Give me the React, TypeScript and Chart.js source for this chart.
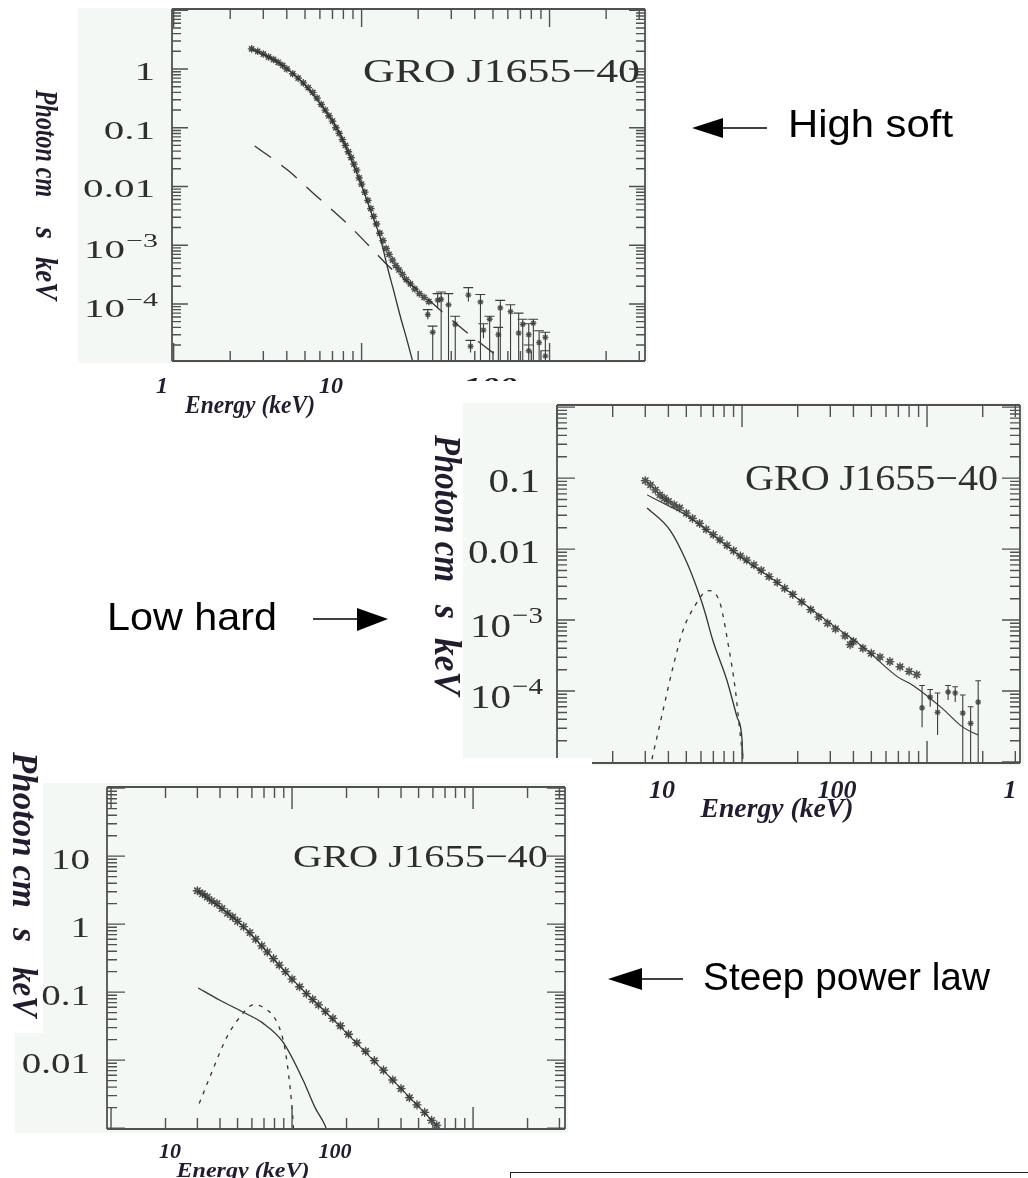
import React, { useEffect, useRef } from 'react';
import { Chart, registerables } from 'chart.js';

Chart.register(...registerables);

// ================= DATA =================
// --- Panel A: "High soft" (energy keV, photon flux) ---
const hsEnergy = [2.6, 2.8, 3.0, 3.2, 3.4, 3.6, 3.8, 4.0, 4.3, 4.6, 4.9, 5.2, 5.5, 5.8, 6.1, 6.4, 6.7, 7.0, 7.3, 7.6, 7.9, 8.2, 8.5, 8.8, 9.1, 9.4, 9.7, 10.0, 10.4, 10.8, 11.2, 11.6, 12.0, 12.5, 13.0, 13.5, 14.0, 14.6, 15.2, 15.8, 16.5, 17.3, 18.2, 19.2, 20.3, 21.5, 22.8];
const hsFlux = [2.2, 2.0, 1.8, 1.6, 1.45, 1.3, 1.15, 1.0, 0.83, 0.70, 0.58, 0.48, 0.40, 0.32, 0.25, 0.20, 0.16, 0.13, 0.10, 0.080, 0.063, 0.050, 0.039, 0.031, 0.024, 0.019, 0.014, 0.011, 0.0080, 0.0058, 0.0042, 0.0031, 0.0023, 0.0016, 0.0012, 0.00088, 0.00070, 0.00056, 0.00045, 0.00038, 0.00032, 0.00026, 0.00022, 0.00018, 0.00015, 0.00013, 0.00011];
const hsHardEnergy = [22.5, 23.9, 25.4, 26.5, 29.0, 31.5, 37.0, 38.0, 42.9, 44.5, 48.0, 53.4, 54.7, 62.0, 68.5, 72.0, 77.5, 77.5, 82.0, 88.0, 95.0, 95.0];
const hsHardFlux = [6.6e-5, 3.3e-5, 1.16e-4, 1.2e-4, 9.7e-5, 4.5e-5, 1.42e-4, 1.9e-5, 1.08e-4, 3.6e-5, 5.5e-5, 3.0e-5, 8.6e-5, 7.4e-5, 3.2e-5, 4.5e-5, 3.0e-5, 1.6e-5, 4.7e-5, 2.2e-5, 2.7e-5, 1.3e-5];
const hsHardUpper = [8e-5, 4.2e-5, 1.5e-4, 1.6e-4, 1.5e-4, 6.2e-5, 1.9e-4, 2.4e-5, 1.45e-4, 4.6e-5, 6.2e-5, 4e-5, 1.15e-4, 9.7e-5, 7e-5, 5.5e-5, 4.6e-5, 2e-5, 5.5e-5, 3.5e-5, 3.3e-5, 1.6e-5];
const hsHardLower = [5.5e-5, 1e-6, 8.5e-5, 1e-6, 1e-6, 1e-6, 1.1e-4, 1.5e-5, 1e-6, 2.6e-5, 1e-6, 1e-6, 1e-6, 1e-6, 1e-6, 1e-6, 1e-6, 1e-6, 1e-6, 1e-6, 1e-6, 1e-6];
const hsDiskEnergy = [2.6, 3.6, 4.7, 6.0, 7.5, 8.7, 9.9, 11.2, 12.6, 13.7, 14.8, 16.1, 17.4, 18.7];
const hsDiskFlux = [2.2, 1.3, 0.65, 0.26, 0.09, 0.032, 0.0115, 0.0038, 0.0013, 4.3e-4, 1.7e-4, 6e-5, 2.5e-5, 1.05e-5];
const hsPowEnergy = [2.7, 4.04, 5.83, 8.42, 12.2, 13.7, 20, 27.3, 49.7, 60];
const hsPowFlux = [0.049, 0.019, 0.0066, 0.0023, 6.8e-4, 4.6e-4, 1.7e-4, 7e-5, 1.5e-5, 1e-5];
const hsYTicks = [1, 0.1, 0.01, 1e-3, 1e-4];

// --- Panel B: "Low hard" ---
const lhEnergy = [3.0, 3.2, 3.4, 3.6, 3.8, 4.0, 4.3, 4.6, 5.0, 5.4, 5.9, 6.4, 7.0, 7.6, 8.3, 9.0, 9.8, 10.6, 11.6, 12.7, 14.0, 15.5, 17.0, 18.8, 21.0, 23.5, 26.0, 29.0, 32.0, 36.0, 38.4, 40.0, 45.0, 50.0, 55.7, 63.0, 71.5, 80.0, 88.0];
const lhFlux = [0.092, 0.080, 0.068, 0.058, 0.052, 0.047, 0.042, 0.038, 0.032, 0.027, 0.023, 0.019, 0.016, 0.0135, 0.0113, 0.0095, 0.0080, 0.0070, 0.0060, 0.0050, 0.0041, 0.0034, 0.0028, 0.0023, 0.0018, 0.0014, 0.0011, 0.00090, 0.00075, 0.00060, 0.00045, 0.00050, 0.00040, 0.00034, 0.00030, 0.00026, 0.00022, 0.00019, 0.00017];
const lhHardEnergy = [94, 104, 114, 130, 142, 156, 172, 189];
const lhHardFlux = [5.8e-5, 8.2e-5, 5.0e-5, 9.7e-5, 9.4e-5, 4.9e-5, 3.5e-5, 7.0e-5];
const lhHardUpper = [1.2e-4, 1.05e-4, 9.4e-5, 1.2e-4, 1.15e-4, 8.8e-5, 6e-5, 1.4e-4];
const lhHardLower = [3.1e-5, 6e-5, 2.4e-5, 7.5e-5, 7e-5, 1e-6, 1e-6, 1e-6];
const lhModelEnergy = [3.07, 3.9, 5, 7, 10, 15, 20, 30, 45, 69, 84, 120, 156, 189];
const lhModelFlux = [0.058, 0.042, 0.030, 0.0155, 0.0075, 0.0036, 0.0020, 0.0009, 0.00042, 0.00016, 0.00012, 5.8e-5, 3.1e-5, 2.4e-5];
const lhDiskEnergy = [3.07, 4.08, 5.04, 5.94, 6.3, 6.95, 8.3, 9.4, 10.0, 10.1];
const lhDiskFlux = [0.038, 0.0185, 0.0064, 0.0021, 0.0013, 5.2e-4, 1.4e-4, 4.3e-5, 2.1e-5, 1.1e-5];
const lhBumpEnergy = [3.26, 3.74, 4.24, 4.8, 5.57, 6.55, 7.6, 8.4, 9.2, 9.8, 10.1];
const lhBumpFlux = [1.1e-5, 5.3e-5, 2.2e-4, 7.2e-4, 1.6e-3, 2.6e-3, 1.75e-3, 4.7e-4, 1.05e-4, 2.3e-5, 1.2e-5];
const lhYTicks = [0.1, 0.01, 1e-3, 1e-4];

// --- Panel C: "Steep power law" ---
const spEnergy = [3.0, 3.2, 3.4, 3.6, 3.85, 4.1, 4.4, 4.7, 5.0, 5.4, 5.85, 6.3, 6.8, 7.3, 7.9, 8.5, 9.2, 10.0, 11.0, 12.0, 13.0, 14.0, 15.3, 16.8, 18.5, 20.5, 22.8, 25.5, 28.5, 32.0, 36.0, 40.0, 44.5, 49.0, 54.0, 59.0, 63.0];
const spFlux = [3.1, 2.8, 2.5, 2.2, 2.0, 1.7, 1.45, 1.27, 1.1, 0.92, 0.75, 0.60, 0.48, 0.39, 0.31, 0.25, 0.20, 0.155, 0.120, 0.095, 0.078, 0.065, 0.052, 0.041, 0.032, 0.024, 0.018, 0.0135, 0.0098, 0.0071, 0.0051, 0.0038, 0.0028, 0.0022, 0.0017, 0.0013, 0.0011];
const spModelEnergy = [3.0, 5.0, 10, 20, 40, 63];
const spModelFlux = [3.1, 1.1, 0.155, 0.025, 0.0038, 0.0011];
const spDiskEnergy = [3.03, 4.0, 5.35, 6.9, 8.9, 11.5, 13.4, 15.2, 15.6];
const spDiskFlux = [0.115, 0.076, 0.051, 0.035, 0.0185, 0.0051, 0.0020, 0.0011, 0.0009];
const spBumpEnergy = [3.07, 3.52, 4.37, 5.16, 6.1, 6.9, 8.3, 9.1, 9.75, 10.1, 10.2];
const spBumpFlux = [0.0023, 0.0057, 0.022, 0.043, 0.065, 0.060, 0.035, 0.0155, 0.0040, 0.0014, 0.0009];
const spYTicks = [10, 1, 0.1, 0.01];

// Text content
const SOURCE = 'GRO J1655\u221240';
const ENERGY_LABEL = 'Energy (keV)';
const hsXTickLabels = ['1', '10', '100'];
const lhXTickLabels = ['10', '100', '1'];
const spXTickLabels = ['10', '100'];
const yLabelParts = ['Photon cm', 's', 'keV'];

// ================= STYLES =================
const SERIF = '"Liberation Serif", "Times New Roman", serif';
const SANS = '"Liberation Sans", Arial, sans-serif';
const INK = '#333333';
const AXIS = '#505050';
const LABEL = '#231c2e';
const BG = '#f3f8f4';

type XY = { x: number; y: number | null };
const pts = (xs: number[], ys: number[]): XY[] => xs.map((x, i) => ({ x, y: ys[i] }));
const bars = (xs: number[], lo: number[], hi: number[], half: number): XY[] => {
  const out: XY[] = [];
  xs.forEach((x, i) => {
    out.push({ x, y: lo[i] }, { x, y: hi[i] }, { x, y: null });
    out.push({ x: x * (1 - half), y: hi[i] }, { x: x * (1 + half), y: hi[i] }, { x, y: null });
  });
  return out;
};

const lineDs = (xs: number[], ys: number[], dash: number[] = [], width = 1.3) => ({
  type: 'line',
  data: pts(xs, ys),
  borderColor: INK,
  borderWidth: width,
  borderDash: dash,
  pointRadius: 0,
  fill: false,
  cubicInterpolationMode: 'monotone',
});
const pointDs = (xs: number[], ys: number[], r: number, w = 1.3) => ({
  type: 'line',
  data: pts(xs, ys),
  showLine: false,
  pointStyle: 'star',
  pointRadius: r,
  pointBorderColor: 'rgba(45,45,45,0.8)',
  pointBackgroundColor: 'rgba(0,0,0,0)',
  pointBorderWidth: w,
});
const boxDs = (xs: number[], ys: number[], r: number) => ({
  type: 'line',
  data: pts(xs, ys),
  showLine: false,
  pointStyle: 'rect',
  pointRadius: r,
  pointBorderColor: 'rgba(90,90,90,0.55)',
  pointBackgroundColor: 'rgba(0,0,0,0)',
  pointBorderWidth: 1.2,
});
const barDs = (xs: number[], lo: number[], hi: number[], half = 0.035) => ({
  type: 'line',
  data: bars(xs, lo, hi, half),
  borderColor: '#3c3c3c',
  borderWidth: 1.1,
  pointRadius: 0,
  spanGaps: false,
  fill: false,
});

interface TextSpec { text: string; x: number; y: number; size: number; w?: number }
interface VSpec { text: string; x: number; y0: number; y1: number; size: number }
interface PanelSpec {
  box: [number, number, number, number];
  area: [number, number, number, number];
  xr: [number, number];
  yr: [number, number];
  bg: [number, number, number, number][];
  white?: [number, number, number, number][];
  yTicks: number[];
  tickSize: number;
  tickSx: number;
  title: TextSpec;
  xLabels: TextSpec[];
  yLabel: VSpec[];
  xMajor: number; xMinor: number; yMajor: number; yMinor: number;
  leftAxisEnd?: number;
  bottomAxisStart?: number;
  datasets: any[];
}

const PANELS: PanelSpec[] = [
  {
    box: [0, 0, 660, 432],
    area: [172, 9, 645, 361],
    xr: [0.98, 322],
    yr: [1.07e-5, 10.5],
    bg: [[78, 8, 648, 363]],
    yTicks: hsYTicks,
    tickSize: 26,
    tickSx: 1.58,
    title: { text: SOURCE, x: 363, y: 82, size: 34, w: 277 },
    xLabels: [
      { text: hsXTickLabels[0], x: 162, y: 393, size: 24 },
      { text: hsXTickLabels[1], x: 331, y: 393, size: 24 },
      { text: hsXTickLabels[2], x: 490, y: 393, size: 24, w: 54 },
      { text: ENERGY_LABEL, x: 250, y: 413, size: 25, w: 130 },
    ],
    yLabel: [
      { text: yLabelParts[0], x: 44, y0: 90, y1: 197, size: 31 },
      { text: yLabelParts[1], x: 44, y0: 227, y1: 239, size: 31 },
      { text: yLabelParts[2], x: 44, y0: 257, y1: 300, size: 31 },
    ],
    xMajor: 18, xMinor: 10, yMajor: 16, yMinor: 9,
    datasets: [
      barDs(hsHardEnergy, hsHardLower, hsHardUpper, 0.06),
      pointDs(hsHardEnergy, hsHardFlux, 3),
      pointDs(hsEnergy, hsFlux, 3.8),
      boxDs(hsEnergy, hsFlux, 2.5),
      lineDs(hsDiskEnergy, hsDiskFlux),
      lineDs(hsPowEnergy, hsPowFlux, [20, 13]),
    ],
  },
  {
    box: [380, 380, 648, 452],
    area: [557, 405, 1020, 763],
    xr: [1, 318],
    yr: [9.7e-6, 1.07],
    bg: [[463, 403, 1024, 758], [592, 758, 1024, 766]],
    white: [[455, 381, 1028, 403]],
    yTicks: lhYTicks,
    tickSize: 34,
    tickSx: 1.21,
    title: { text: SOURCE, x: 745, y: 490, size: 36, w: 253 },
    xLabels: [
      { text: lhXTickLabels[0], x: 662, y: 798, size: 26 },
      { text: lhXTickLabels[1], x: 837, y: 798, size: 26 },
      { text: lhXTickLabels[2], x: 1010, y: 798, size: 26 },
      { text: ENERGY_LABEL, x: 777, y: 817, size: 28, w: 153 },
    ],
    yLabel: [
      { text: yLabelParts[0], x: 445, y0: 435, y1: 582, size: 38 },
      { text: yLabelParts[1], x: 445, y0: 605, y1: 619, size: 38 },
      { text: yLabelParts[2], x: 445, y0: 638, y1: 695, size: 38 },
    ],
    xMajor: 22, xMinor: 12, yMajor: 18, yMinor: 10,
    leftAxisEnd: 758,
    bottomAxisStart: 592,
    datasets: [
      barDs(lhHardEnergy, lhHardLower, lhHardUpper, 0.035),
      pointDs(lhHardEnergy, lhHardFlux, 3),
      pointDs(lhEnergy, lhFlux, 4.5),
      boxDs(lhEnergy, lhFlux, 3.2),
      lineDs(lhModelEnergy, lhModelFlux, [], 1.1),
      lineDs(lhDiskEnergy, lhDiskFlux),
      lineDs(lhBumpEnergy, lhBumpFlux, [4, 6]),
    ],
  },
  {
    box: [0, 745, 580, 433],
    area: [107, 787, 565, 1129],
    xr: [0.95, 322],
    yr: [9.7e-4, 104],
    bg: [[43, 783, 568, 1133], [15, 1033, 43, 1133]],
    yTicks: spYTicks,
    tickSize: 30,
    tickSx: 1.3,
    title: { text: SOURCE, x: 293, y: 867, size: 32, w: 255 },
    xLabels: [
      { text: spXTickLabels[0], x: 170, y: 1158, size: 22 },
      { text: spXTickLabels[1], x: 335, y: 1158, size: 22 },
      { text: ENERGY_LABEL, x: 243, y: 1177, size: 22, w: 133 },
    ],
    yLabel: [
      { text: yLabelParts[0], x: 22, y0: 752, y1: 908, size: 36 },
      { text: yLabelParts[1], x: 22, y0: 928, y1: 942, size: 36 },
      { text: yLabelParts[2], x: 22, y0: 967, y1: 1017, size: 36 },
    ],
    xMajor: 22, xMinor: 11, yMajor: 18, yMinor: 10,
    datasets: [
      pointDs(spEnergy, spFlux, 4.6),
      boxDs(spEnergy, spFlux, 3.2),
      lineDs(spModelEnergy, spModelFlux, [], 1.1),
      lineDs(spDiskEnergy, spDiskFlux),
      lineDs(spBumpEnergy, spBumpFlux, [4, 6]),
    ],
  },
];

// ================= DRAW HELPERS =================
function stretch(ctx: CanvasRenderingContext2D, text: string, x: number, y: number, font: string, sx: number, align: CanvasTextAlign = 'left') {
  ctx.save();
  ctx.font = font;
  ctx.textBaseline = 'alphabetic';
  ctx.textAlign = align;
  ctx.translate(x, y);
  ctx.scale(sx, 1);
  ctx.fillText(text, 0, 0);
  ctx.restore();
}
function fit(ctx: CanvasRenderingContext2D, text: string, x: number, y: number, font: string, w: number, align: CanvasTextAlign = 'left') {
  ctx.save();
  ctx.font = font;
  const m = ctx.measureText(text).width;
  ctx.restore();
  stretch(ctx, text, x, y, font, w / m, align);
}
function vfit(ctx: CanvasRenderingContext2D, text: string, xc: number, y0: number, y1: number, font: string) {
  ctx.save();
  ctx.font = font;
  const m = ctx.measureText(text).width;
  ctx.translate(xc, y0);
  ctx.rotate(Math.PI / 2);
  ctx.scale((y1 - y0) / m, 1);
  ctx.textBaseline = 'middle';
  ctx.textAlign = 'left';
  ctx.fillText(text, 0, 0);
  ctx.restore();
}
function logTicks(min: number, max: number) {
  const out: { v: number; major: boolean }[] = [];
  for (let e = Math.floor(Math.log10(min)); e <= Math.ceil(Math.log10(max)); e++) {
    for (let k = 1; k <= 9; k++) {
      const v = k * Math.pow(10, e);
      if (v >= min * 0.999 && v <= max * 1.001) out.push({ v, major: k === 1 });
    }
  }
  return out;
}

function decorPlugin(p: PanelSpec) {
  const ox = p.box[0];
  const oy = p.box[1];
  return {
    id: 'decor',
    beforeDraw(chart: any) {
      const ctx: CanvasRenderingContext2D = chart.ctx;
      ctx.save();
      ctx.fillStyle = '#ffffff';
      (p.white || []).forEach((r) => ctx.fillRect(r[0] - ox, r[1] - oy, r[2] - r[0], r[3] - r[1]));
      ctx.fillStyle = BG;
      p.bg.forEach((r) => ctx.fillRect(r[0] - ox, r[1] - oy, r[2] - r[0], r[3] - r[1]));
      ctx.restore();
    },
    afterDatasetsDraw(chart: any) {
      const ctx: CanvasRenderingContext2D = chart.ctx;
      const a = chart.chartArea;
      const xs = chart.scales.x;
      const ys = chart.scales.y;
      const leftEnd = p.leftAxisEnd !== undefined ? p.leftAxisEnd - oy : a.bottom;
      const bottomStart = p.bottomAxisStart !== undefined ? p.bottomAxisStart - ox : a.left;
      ctx.save();
      ctx.strokeStyle = AXIS;
      ctx.lineCap = 'butt';
      // frame
      ctx.lineWidth = 1.8;
      ctx.beginPath();
      ctx.moveTo(a.left, a.top); ctx.lineTo(a.right, a.top);
      ctx.moveTo(a.right, a.top); ctx.lineTo(a.right, a.bottom);
      ctx.moveTo(bottomStart, a.bottom); ctx.lineTo(a.right, a.bottom);
      ctx.moveTo(a.left, a.top); ctx.lineTo(a.left, leftEnd);
      ctx.stroke();
      // ticks
      ctx.lineWidth = 1.4;
      ctx.beginPath();
      logTicks(p.xr[0], p.xr[1]).forEach((t) => {
        const px = xs.getPixelForValue(t.v);
        const len = t.major ? p.xMajor : p.xMinor;
        ctx.moveTo(px, a.top); ctx.lineTo(px, a.top + len);
        if (px >= bottomStart) { ctx.moveTo(px, a.bottom); ctx.lineTo(px, a.bottom - len); }
      });
      logTicks(p.yr[0], p.yr[1]).forEach((t) => {
        const py = ys.getPixelForValue(t.v);
        const len = t.major ? p.yMajor : p.yMinor;
        if (py <= leftEnd) { ctx.moveTo(a.left, py); ctx.lineTo(a.left + len, py); }
        ctx.moveTo(a.right, py); ctx.lineTo(a.right - len, py);
      });
      ctx.stroke();

      // y tick labels
      ctx.fillStyle = '#2e2e2e';
      const xr = a.left - 17;
      const font = `${p.tickSize}px ${SERIF}`;
      const supFont = `${Math.round(p.tickSize * 0.72)}px ${SERIF}`;
      p.yTicks.forEach((v) => {
        const py = ys.getPixelForValue(v);
        const e = Math.round(Math.log10(v));
        if (e >= -2) {
          stretch(ctx, String(v), xr, py + 0.42 * p.tickSize, font, p.tickSx, 'right');
        } else {
          ctx.font = font;
          const w10 = ctx.measureText('10').width;
          const sup = '\u2212' + Math.abs(e);
          ctx.font = supFont;
          const ws = ctx.measureText(sup).width;
          const x0 = xr + 2 - (w10 + ws) * p.tickSx;
          stretch(ctx, '10', x0, py + 0.5 * p.tickSize, font, p.tickSx, 'left');
          stretch(ctx, sup, x0 + w10 * p.tickSx + 1, py + 0.08 * p.tickSize, supFont, p.tickSx, 'left');
        }
      });

      // title inside plot
      ctx.fillStyle = '#2e2e2e';
      fit(ctx, p.title.text, p.title.x - ox, p.title.y - oy, `${p.title.size}px ${SERIF}`, p.title.w || 200, 'left');

      // x labels (bold italic)
      ctx.fillStyle = LABEL;
      p.xLabels.forEach((t) => {
        const f = `italic bold ${t.size}px ${SERIF}`;
        if (t.w) fit(ctx, t.text, t.x - ox, t.y - oy, f, t.w, 'center');
        else stretch(ctx, t.text, t.x - ox, t.y - oy, f, 1, 'center');
      });
      // y label (rotated)
      p.yLabel.forEach((t) => {
        vfit(ctx, t.text, t.x - ox, t.y0 - oy, t.y1 - oy, `italic bold ${t.size}px ${SERIF}`);
      });
      ctx.restore();
    },
  };
}

function ChartPanel({ p }: { p: PanelSpec }) {
  const ref = useRef<HTMLCanvasElement>(null);
  useEffect(() => {
    if (!ref.current) return;
    const [bl, bt, bw, bh] = p.box;
    const [al, at, ar, ab] = p.area;
    const chart = new Chart(ref.current, {
      type: 'line',
      data: { datasets: p.datasets as any },
      options: {
        animation: false,
        responsive: false,
        maintainAspectRatio: false,
        devicePixelRatio: 1,
        events: [],
        layout: { padding: { left: al - bl, top: at - bt, right: bl + bw - ar, bottom: bt + bh - ab } },
        plugins: { legend: { display: false }, tooltip: { enabled: false }, title: { display: false } },
        scales: {
          x: { type: 'logarithmic', min: p.xr[0], max: p.xr[1], display: false },
          y: { type: 'logarithmic', min: p.yr[0], max: p.yr[1], display: false },
        },
      } as any,
      plugins: [decorPlugin(p) as any],
    });
    return () => chart.destroy();
  }, [p]);
  return (
    <canvas
      ref={ref}
      width={p.box[2]}
      height={p.box[3]}
      style={{ position: 'absolute', left: p.box[0], top: p.box[1], width: p.box[2], height: p.box[3] }}
    />
  );
}

function Annotations() {
  return (
    <svg width={1028} height={1178} style={{ position: 'absolute', left: 0, top: 0, pointerEvents: 'none' }}>
      <g fontFamily={SANS} fontSize={39} fill="#000">
        <text x={788} y={137} textLength={165} lengthAdjust="spacingAndGlyphs">High soft</text>
        <text x={107} y={630} textLength={170} lengthAdjust="spacingAndGlyphs">Low hard</text>
        <text x={703} y={990} textLength={287} lengthAdjust="spacingAndGlyphs">Steep power law</text>
      </g>
      <g stroke="#000" strokeWidth={1.5}>
        <line x1={722} y1={128} x2={767} y2={128} />
        <line x1={313} y1={619} x2={358} y2={619} />
        <line x1={641} y1={979} x2={683} y2={979} />
      </g>
      <g fill="#000">
        <polygon points="692,128 723,118 723,138" />
        <polygon points="388,619 357,608 357,631" />
        <polygon points="608,979 642,968 642,990" />
      </g>
    </svg>
  );
}

export default function App() {
  return (
    <div style={{ position: 'absolute', left: 0, top: 0, width: 1028, height: 1178, overflow: 'hidden', background: '#ffffff' }}>
      {PANELS.map((p, i) => (
        <ChartPanel key={i} p={p} />
      ))}
      <Annotations />
      <div style={{ position: 'absolute', left: 510, top: 1172, width: 518, height: 30, borderTop: '1px solid #222', borderLeft: '1px solid #222' }} />
    </div>
  );
}
